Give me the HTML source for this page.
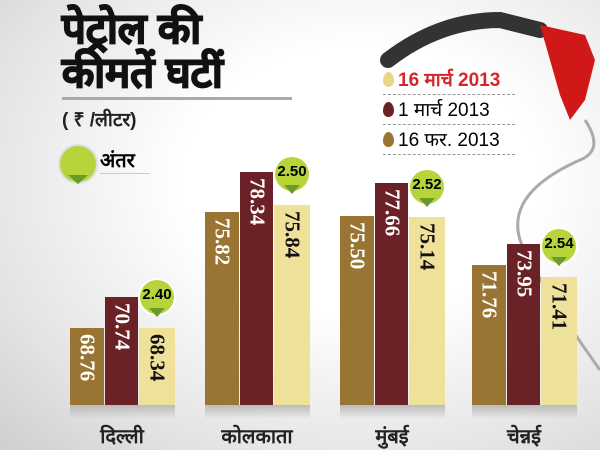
<!DOCTYPE html>
<html><head><meta charset="utf-8"><style>
body{margin:0}
#c{position:relative;width:600px;height:450px;overflow:hidden;background:radial-gradient(ellipse at 60% 40%,#fff 35%,#e4e4e4 75%,#cfcfcf 100%);font-family:"Liberation Sans","Noto Sans CJK SC",sans-serif}
.t{position:absolute;font-weight:900;color:#111;font-size:42px;line-height:46px;font-family:"Liberation Sans","Noto Sans CJK SC",sans-serif;-webkit-text-stroke:1.5px #111}
.bar{position:absolute;bottom:45px}
.v{position:absolute;left:50%;top:6px;transform-origin:0 0;transform:rotate(90deg) translateY(-50%);font:bold 21px "Liberation Serif",serif;white-space:nowrap}
.b1{background:#9a7433}.b2{background:#6b2226}.b3{background:#efe09a}
.b1 .v,.b2 .v{color:#fff}.b3 .v{color:#111}
.bub{position:absolute;width:34px;height:34px;border-radius:50%;background:#b7d43a;font:bold 15px "Liberation Sans",sans-serif;text-align:center;line-height:30px;box-shadow:0 0 0 2px #fff}
.bub:after{content:"";position:absolute;left:9px;top:28px;border:8px solid transparent;border-top:9px solid #6a9a2a}
.lab{position:absolute;top:422px;font-size:20px;font-weight:bold;color:#222;width:120px;text-align:center}
.sh{position:absolute;top:405px;height:14px;background:linear-gradient(#bbb,rgba(220,220,220,0))}
.lg{position:absolute;left:383px;font-size:19px;line-height:26px;border-bottom:1px dashed #999;width:132px;white-space:nowrap}
.dr{display:inline-block;width:11px;height:15px;border-radius:50% 50% 50% 50%/60% 60% 40% 40%;margin-right:4px;vertical-align:-1px}
</style></head><body><div id="c">
<div class="t" style="left:62px;top:6px">पेट्रोल की</div>
<div class="t" style="left:62px;top:50px">कीमतें घटीं</div>
<div style="position:absolute;left:62px;top:97px;width:230px;height:3px;background:#aaa"></div>
<div style="position:absolute;left:62px;top:106px;font-size:19px;font-weight:bold;color:#222">( ₹ /लीटर)</div>
<div style="position:absolute;left:60px;top:146px;width:36px;height:36px;border-radius:50%;background:#b7d43a;box-shadow:0 0 0 2px #ddd"></div>
<div style="position:absolute;left:68px;top:175px;border:10px solid transparent;border-top:9px solid #6a9a2a"></div>
<div style="position:absolute;left:100px;top:146px;font-size:20px;font-weight:bold;border-bottom:1px solid #ccc;width:50px">अंतर</div>
<svg style="position:absolute;left:380px;top:0" width="220" height="450">
<path d="M8 60 Q60 20 120 20 L160 30" stroke="#333" stroke-width="16" fill="none" stroke-linecap="round"/>
<path d="M160 25 L205 35 L215 60 L205 100 L190 120 L180 95 L170 60 Z" fill="#d01818"/>
<path d="M205 120 Q225 150 200 160 Q110 200 150 260 Q170 300 220 370" stroke="#aaa" stroke-width="3" fill="none"/>
</svg>
<div class="lg" style="top:68px;color:#d7262b;font-weight:bold"><span class="dr" style="background:#ead48a"></span>16 मार्च 2013</div>
<div class="lg" style="top:98px"><span class="dr" style="background:#6b2226"></span>1 मार्च 2013</div>
<div class="lg" style="top:128px"><span class="dr" style="background:#9a7433"></span>16 फर. 2013</div>

<div class="sh" style="left:70px;width:105px"></div>
<div class="bar b1" style="left:70px;width:34px;height:77px"><span class="v">68.76</span></div>
<div class="bar b2" style="left:105px;width:33px;height:108px"><span class="v">70.74</span></div>
<div class="bar b3" style="left:139px;width:36px;height:77px"><span class="v">68.34</span></div>
<div class="bub" style="left:140px;top:280px">2.40</div>
<div class="lab" style="left:62px">दिल्ली</div>

<div class="sh" style="left:205px;width:105px"></div>
<div class="bar b1" style="left:205px;width:34px;height:193px"><span class="v">75.82</span></div>
<div class="bar b2" style="left:240px;width:33px;height:233px"><span class="v">78.34</span></div>
<div class="bar b3" style="left:274px;width:36px;height:200px"><span class="v">75.84</span></div>
<div class="bub" style="left:275px;top:157px">2.50</div>
<div class="lab" style="left:197px">कोलकाता</div>

<div class="sh" style="left:340px;width:105px"></div>
<div class="bar b1" style="left:340px;width:34px;height:189px"><span class="v">75.50</span></div>
<div class="bar b2" style="left:375px;width:33px;height:222px"><span class="v">77.66</span></div>
<div class="bar b3" style="left:409px;width:36px;height:188px"><span class="v">75.14</span></div>
<div class="bub" style="left:410px;top:170px">2.52</div>
<div class="lab" style="left:332px">मुंबई</div>

<div class="sh" style="left:472px;width:105px"></div>
<div class="bar b1" style="left:472px;width:34px;height:140px"><span class="v">71.76</span></div>
<div class="bar b2" style="left:507px;width:33px;height:161px"><span class="v">73.95</span></div>
<div class="bar b3" style="left:541px;width:36px;height:128px"><span class="v">71.41</span></div>
<div class="bub" style="left:542px;top:229px">2.54</div>
<div class="lab" style="left:464px">चेन्नई</div>
</div></body></html>
